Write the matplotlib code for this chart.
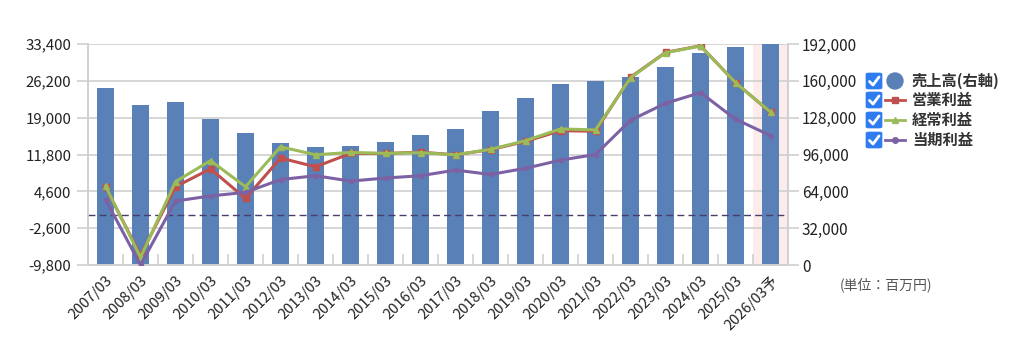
import matplotlib
matplotlib.use("Agg")
import matplotlib.pyplot as plt
from matplotlib.ticker import FuncFormatter, FixedLocator
from matplotlib.patches import FancyBboxPatch, Ellipse
from matplotlib.lines import Line2D

plt.rcParams['font.family'] = ['Noto Sans CJK JP', 'DejaVu Sans']

categories = ["2007/03", "2008/03", "2009/03", "2010/03", "2011/03", "2012/03",
              "2013/03", "2014/03", "2015/03", "2016/03", "2017/03", "2018/03",
              "2019/03", "2020/03", "2021/03", "2022/03", "2023/03", "2024/03",
              "2025/03", "2026/03予"]
sales = [154000, 138700, 141600, 126600, 115000, 105700, 102300, 103400, 106900,
         112700, 118500, 133500, 144800, 157600, 159600, 163000, 172300, 183900,
         189700, 192000]
operating = [5400, -7900, 5500, 9000, 3200, 11100, 9400, 12000, 12000, 12250,
             11750, 12750, 14350, 16450, 16350, 26900, 31750, 33050, 25850, 20050]
ordinary = [5650, -8300, 6500, 10600, 5500, 13300, 11750, 12200, 12030, 12150,
            11750, 12800, 14500, 16800, 16600, 26800, 31700, 33000, 25850, 20100]
net = [3000, -9800, 2700, 3700, 4400, 6900, 7650, 6600, 7200, 7650, 8750, 7900,
       9100, 10700, 11800, 18500, 21800, 23900, 18700, 15500]
left_ticks = [-9800, -2600, 4600, 11800, 19000, 26200, 33400]
right_ticks = [0, 32000, 64000, 96000, 128000, 160000, 192000]
legend_labels = ["売上高(右軸)", "営業利益", "経常利益", "当期利益"]

W, H = 1024, 358
fig = plt.figure(figsize=(W / 100, H / 100), dpi=100)
L, R, T, B = 88, 788, 44, 265
axL = fig.add_axes([L / W, 1 - B / H, (R - L) / W, (B - T) / H])
axR = axL.twinx()
axL.set_zorder(axR.get_zorder() + 1)
axL.patch.set_visible(False)

n = len(categories)
x = list(range(n))
grid_c = "#d0d0d0"

# background highlight for forecast
axR.axvspan(n - 1.5, n - 0.5, color="#fcecec", zorder=0, lw=0)
# bars
axR.bar(x, sales, width=0.5, color="#5a80b8", zorder=2)
axR.set_ylim(0, 192000)
axR.set_yticks(right_ticks)
axR.yaxis.set_major_formatter(FuncFormatter(lambda v, p: f"{v:,.0f}"))
for t in right_ticks[1:]:
    axR.axhline(t, color=grid_c, lw=1.2, zorder=1)

# lines
axL.plot(x, operating, color="#c0504d", lw=2.2, marker="s", ms=4.5, zorder=3)
axL.plot(x, ordinary, color="#9bbb59", lw=2.2, marker="^", ms=5, zorder=4)
axL.plot(x, net, color="#7c62a4", lw=2.2, marker="o", ms=3, zorder=5)
axL.axhline(0, color="#4a3d6e", lw=1, ls=(0, (5, 3)), zorder=2)
axL.set_ylim(-9800, 33400)
axL.set_yticks(left_ticks)
axL.yaxis.set_major_formatter(FuncFormatter(lambda v, p: f"{v:,.0f}"))
axL.set_xlim(-0.5, n - 0.5)
axL.xaxis.set_major_locator(FixedLocator(x))
axL.set_xticklabels(categories, rotation=45, ha="right", va="top",
                    rotation_mode="anchor")
axL.xaxis.set_minor_locator(FixedLocator([i + 0.5 for i in range(n - 1)]))
axL.tick_params(axis="x", which="major", length=0, pad=6, labelsize=10.5,
                colors="#222222")
axL.tick_params(axis="x", which="minor", length=8, direction="in",
                color=grid_c, width=1.2)
axL.tick_params(axis="y", length=8, width=1.2, color=grid_c, direction="out",
                pad=4, labelsize=10.8, labelcolor="#222222")
axR.tick_params(axis="y", length=8, width=1.2, color=grid_c, direction="out",
                pad=2, labelsize=11, labelcolor="#222222")
axR.tick_params(axis="x", length=0)

for ax in (axL, axR):
    for s in ax.spines.values():
        s.set_color(grid_c)
        s.set_linewidth(1.2)
    ax.spines["top"].set_visible(False)


def fx(px):
    return px / W


def fy(py):
    return 1 - py / H


# legend
ys = [81, 100, 120, 140]
colors = ["#5a80b8", "#c0504d", "#9bbb59", "#7c62a4"]
markers = [None, "s", "^", "o"]
for i, (yy, lab) in enumerate(zip(ys, legend_labels)):
    box = FancyBboxPatch((fx(866), fy(yy + 8)), 16 / W, 16 / H,
                         boxstyle="round,pad=0,rounding_size=0.003",
                         transform=fig.transFigure, facecolor="#2e7cf0",
                         edgecolor="#2e7cf0", lw=0.5)
    fig.add_artist(box)
    fig.add_artist(Line2D([fx(869.5), fx(873), fx(879)],
                          [fy(yy + 0.5), fy(yy + 4), fy(yy - 4)],
                          transform=fig.transFigure, color="white", lw=2,
                          solid_capstyle="round", solid_joinstyle="round"))
    if i == 0:
        fig.add_artist(Ellipse((fx(895), fy(yy)), 16 / W, 16 / H,
                               transform=fig.transFigure, color=colors[0]))
    else:
        fig.add_artist(Line2D([fx(885), fx(905)], [fy(yy), fy(yy)],
                              transform=fig.transFigure, color=colors[i],
                              lw=2, marker=None))
        fig.add_artist(Line2D([fx(895)], [fy(yy)], transform=fig.transFigure,
                              color=colors[i], marker=markers[i], ms=4))
    fig.text(fx(912), fy(yy), lab, fontsize=11, fontweight="bold",
             color="#333333", va="center", ha="left")

fig.text(fx(840), fy(285), "(単位：百万円)", fontsize=10, color="#555555",
         va="center", ha="left")

fig.savefig("out.png", dpi=100)
